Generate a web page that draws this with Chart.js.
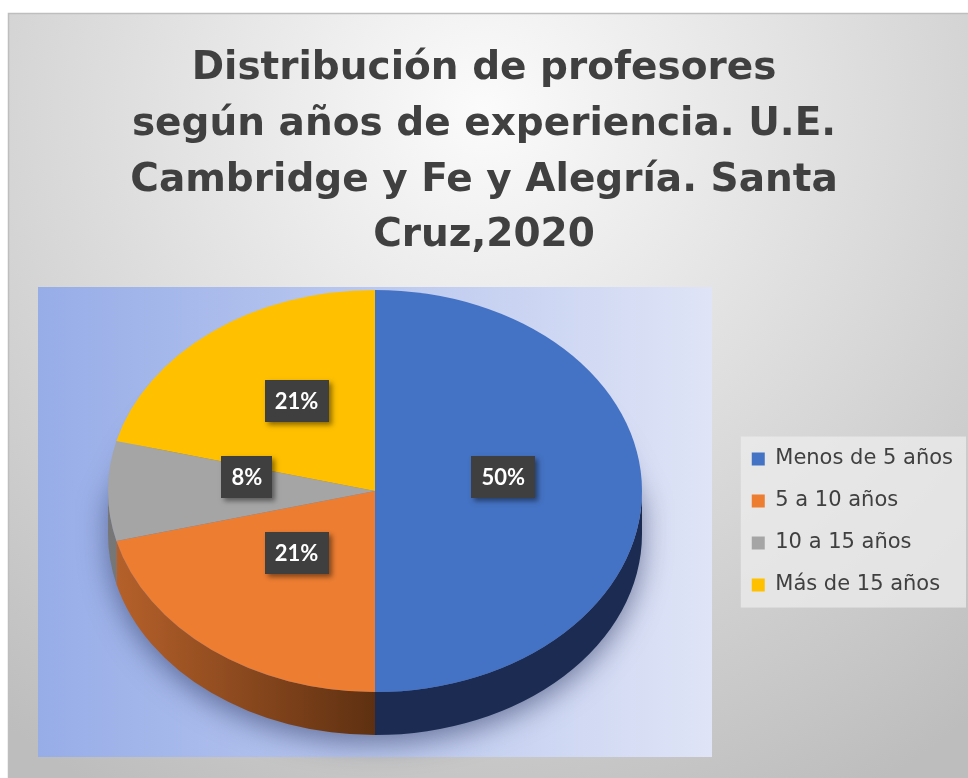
<!DOCTYPE html>
<html><head><meta charset="utf-8">
<script src="https://cdn.jsdelivr.net/npm/chart.js@4.4.1/dist/chart.umd.min.js"></script>
<style>html,body{margin:0;padding:0;background:#fff}canvas{display:block}</style>
</head><body>
<canvas id="c" width="968" height="778"></canvas>
<script>
// ---- data ----
const titleLines = ['Distribución de profesores', 'según años de experiencia. U.E.', 'Cambridge y Fe y Alegría. Santa', 'Cruz,2020'];
const categories = ['Menos de 5 años', '5 a 10 años', '10 a 15 años', 'Más de 15 años'];
const percentages = [50, 21, 8, 21];
const sliceColors = ['#4472C4', '#ED7D31', '#A5A5A5', '#FFC000'];
const sideColors = [['#1B2B51', '#1B2B51'], ['#B8622B', '#5E3011'], ['#777777', '#5C5C5C'], ['#B08600', '#8A6A00']];

// ---- geometry / style ----
const PIE = {cx: 375, cy: 491, rx: 267, ry: 201, depth: 43, labelLift: 14, labelR: 0.48};
const PLOT = {x: 38, y: 287, w: 674, h: 470};

function ellipsePt(a, dy) {
  return [PIE.cx + PIE.rx * Math.cos(a), PIE.cy + dy + PIE.ry * Math.sin(a)];
}

const pie3d = {
  id: 'pie3d',
  beforeDraw(chart) {
    const ctx = chart.ctx;
    ctx.save();
    ctx.fillStyle = '#ffffff';
    ctx.fillRect(0, 0, chart.width, chart.height);
    const g = ctx.createRadialGradient(484, 110, 0, 484, 110, 780);
    g.addColorStop(0, '#FBFBFB');
    g.addColorStop(1, '#BDBDBD');
    ctx.fillStyle = g;
    ctx.fillRect(8, 13, 960, 765);
    ctx.strokeStyle = '#BEBEBE';
    ctx.lineWidth = 1.5;
    ctx.strokeRect(8.5, 13.5, 980, 790);
    const lg = ctx.createLinearGradient(PLOT.x, 0, PLOT.x + PLOT.w, 0);
    lg.addColorStop(0, '#97ADE8');
    lg.addColorStop(1, '#DFE4F6');
    ctx.fillStyle = lg;
    ctx.fillRect(PLOT.x, PLOT.y, PLOT.w, PLOT.h);
    // legend background
    const L = chart.legend;
    if (L && L.columnSizes) {
      const pad = L.options.labels.padding;
      const colH = L.columnSizes[0].height;
      const y0 = (L.top + pad + L.bottom - colH) / 2;
      ctx.fillStyle = 'rgba(236,236,236,0.75)';
      ctx.fillRect(L.left + 10, y0 - 12, L.right - L.left - 7, colH + 3);
    }
    ctx.restore();
  },
  beforeDatasetsDraw(chart) {
    const ctx = chart.ctx;
    const arcs = chart.getDatasetMeta(0).data;
    const {cx, cy, rx, ry, depth} = PIE;
    // soft shadow under the pie
    ctx.save();
    ctx.shadowColor = 'rgba(35,45,90,0.55)';
    ctx.shadowBlur = 28;
    ctx.shadowOffsetX = 3000;
    ctx.shadowOffsetY = 8;
    ctx.fillStyle = '#000';
    ctx.beginPath();
    ctx.ellipse(cx - 3000, cy + depth, rx, ry, 0, 0, Math.PI * 2);
    ctx.rect(cx - 3000 - rx, cy, 2 * rx, depth);
    ctx.fill();
    ctx.restore();
    // sides
    arcs.forEach((a, i) => {
      const p = a.getProps(['startAngle', 'endAngle'], true);
      [-2 * Math.PI, 0, 2 * Math.PI].forEach(off => {
        const s = Math.max(p.startAngle + off, 0);
        const e = Math.min(p.endAngle + off, Math.PI);
        if (e <= s) return;
        const sg = ctx.createLinearGradient(cx - rx, 0, cx, 0);
        sg.addColorStop(0, sideColors[i][0]);
        sg.addColorStop(1, sideColors[i][1]);
        ctx.fillStyle = sg;
        ctx.beginPath();
        ctx.ellipse(cx, cy, rx, ry, 0, s, e, false);
        const b = ellipsePt(e, depth);
        ctx.lineTo(b[0], b[1]);
        ctx.ellipse(cx, cy + depth, rx, ry, 0, e, s, true);
        ctx.closePath();
        ctx.fill();
      });
    });
    // project the library's circle onto the tilted top face
    const a0 = arcs[0];
    const R = a0.outerRadius;
    ctx.save();
    ctx.translate(cx, cy);
    ctx.scale(rx / R, ry / R);
    ctx.translate(-a0.x, -a0.y);
  },
  afterDatasetsDraw(chart) {
    const ctx = chart.ctx;
    ctx.restore();
    const arcs = chart.getDatasetMeta(0).data;
    const ds = chart.data.datasets[0].data;
    ctx.save();
    ctx.font = 'bold 22px Lato';
    ctx.textAlign = 'center';
    ctx.textBaseline = 'middle';
    arcs.forEach((a, i) => {
      const p = a.getProps(['startAngle', 'endAngle'], true);
      const m = (p.startAngle + p.endAngle) / 2;
      const x = PIE.cx + PIE.labelR * PIE.rx * Math.cos(m);
      const y = PIE.cy - PIE.labelLift + PIE.labelR * PIE.ry * Math.sin(m);
      const txt = ds[i] + '%';
      const w = ctx.measureText(txt).width + 20, h = 42;
      ctx.save();
      ctx.shadowColor = 'rgba(0,0,0,0.45)';
      ctx.shadowBlur = 5;
      ctx.shadowOffsetX = 3;
      ctx.shadowOffsetY = 3;
      ctx.fillStyle = '#3F3F3F';
      ctx.fillRect(Math.round(x - w / 2), Math.round(y - h / 2), Math.round(w), h);
      ctx.restore();
      ctx.fillStyle = '#FFFFFF';
      ctx.fillText(txt, x, y + 1);
    });
    ctx.restore();
  }
};

new Chart(document.getElementById('c'), {
  type: 'pie',
  data: {
    labels: categories,
    datasets: [{data: percentages, backgroundColor: sliceColors, borderWidth: 0}]
  },
  options: {
    responsive: false,
    animation: false,
    events: [],
    layout: {padding: {left: 5, right: 5, top: 0, bottom: 0}},
    plugins: {
      tooltip: {enabled: false},
      title: {
        display: true,
        text: titleLines,
        color: '#404040',
        font: {family: 'DejaVu Sans', weight: 'bold', size: 39, lineHeight: 1.43},
        padding: {top: 41, bottom: 2}
      },
      legend: {
        position: 'right',
        fullSize: false,
        labels: {
          color: '#404040',
          font: {family: 'DejaVu Sans', size: 21},
          boxWidth: 13,
          boxHeight: 13,
          padding: 21
        }
      }
    }
  },
  plugins: [pie3d]
});
</script>
</body></html>
